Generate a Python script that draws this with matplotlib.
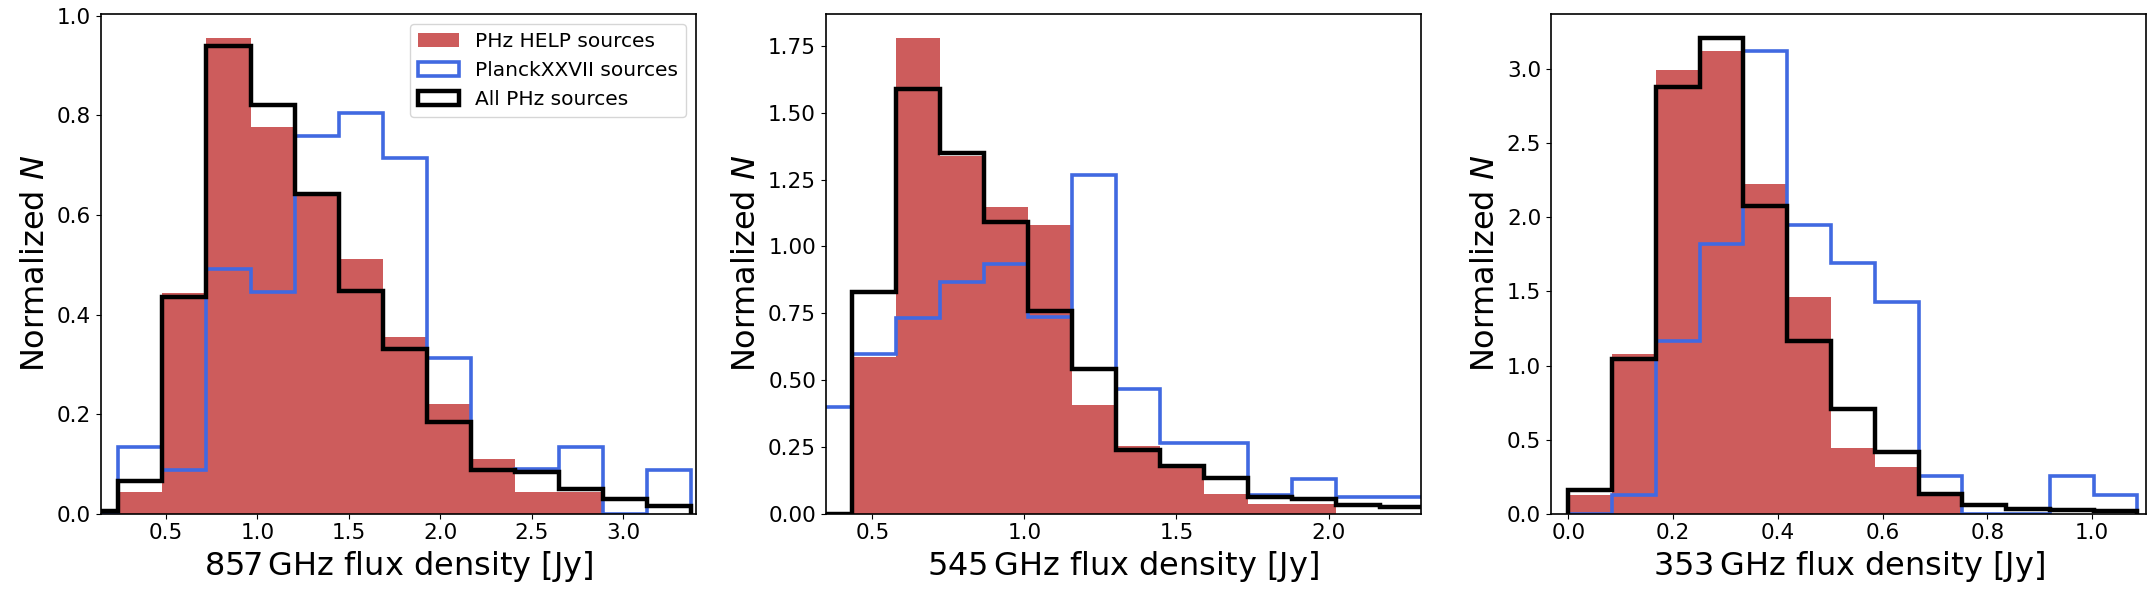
import numpy as np
import matplotlib
matplotlib.use("Agg")
import matplotlib.pyplot as plt  # noqa: E402
from matplotlib.ticker import MultipleLocator  # noqa: E402

# ---- bin edges and normalized counts ----
edges_857 = [0.0, 0.241, 0.481, 0.722, 0.963, 1.204, 1.444, 1.685, 1.926, 2.166, 2.407, 2.648, 2.889, 3.129, 3.370]
help_857 = [0.0, 0.043, 0.443, 0.956, 0.777, 0.640, 0.512, 0.355, 0.220, 0.110, 0.044, 0.044, 0.0, 0.0]
xxvii_857 = [0.0, 0.133, 0.087, 0.491, 0.445, 0.759, 0.804, 0.714, 0.312, 0.088, 0.090, 0.134, 0.0, 0.088]
all_857 = [0.006, 0.066, 0.435, 0.940, 0.821, 0.642, 0.447, 0.331, 0.185, 0.087, 0.083, 0.049, 0.029, 0.015]

edges_545 = [0.289, 0.434, 0.578, 0.723, 0.868, 1.012, 1.157, 1.301, 1.446, 1.591, 1.735, 1.880, 2.024, 2.169, 2.314]
help_545 = [0.0, 0.585, 1.780, 1.337, 1.148, 1.078, 0.407, 0.255, 0.170, 0.075, 0.036, 0.036, 0.0, 0.0]
xxvii_545 = [0.399, 0.598, 0.732, 0.867, 0.934, 0.736, 1.266, 0.466, 0.264, 0.264, 0.070, 0.129, 0.064, 0.064]
all_545 = [0.0, 0.830, 1.589, 1.350, 1.090, 0.760, 0.542, 0.239, 0.179, 0.133, 0.061, 0.056, 0.033, 0.024]

edges_353 = [0.0, 0.0836, 0.1672, 0.2508, 0.3344, 0.418, 0.5016, 0.5852, 0.6688, 0.7524, 0.836, 0.9196, 1.0032, 1.0868]
help_353 = [0.126, 1.079, 2.998, 3.126, 2.228, 1.464, 0.444, 0.315, 0.120, 0.0, 0.0, 0.0, 0.0]
xxvii_353 = [0.0, 0.126, 1.167, 1.820, 3.126, 1.949, 1.692, 1.428, 0.255, 0.0, 0.0, 0.255, 0.124]
all_353 = [0.160, 1.043, 2.881, 3.212, 2.074, 1.167, 0.707, 0.415, 0.133, 0.059, 0.034, 0.025, 0.020]

bands = ["857", "545", "353"]
xlims = [(0.146, 3.396), (0.347, 2.303), (-0.033, 1.103)]
xsteps = [0.5, 0.5, 0.2]
panels = [(edges_857, help_857, xxvii_857, all_857),
          (edges_545, help_545, xxvii_545, all_545),
          (edges_353, help_353, xxvii_353, all_353)]

fig = plt.figure(figsize=(21.52, 6.04), dpi=100)
lefts = [0.0469, 0.3837, 0.7207]
for i, (band, xl, (ed, h, x27, al)) in enumerate(zip(bands, xlims, panels)):
    ax = fig.add_axes([lefts[i], 0.1495, 0.2765, 0.8273])
    ed = np.array(ed)
    mids = 0.5 * (ed[:-1] + ed[1:])
    ax.hist(mids, bins=ed, weights=h, histtype="stepfilled", color="indianred",
            label="PHz HELP sources")
    ax.hist(mids, bins=ed, weights=x27, histtype="step", color="royalblue", lw=2.6,
            label="PlanckXXVII sources")
    ax.hist(mids, bins=ed, weights=al, histtype="step", color="black", lw=3.2,
            label="All PHz sources")
    ax.set_xlim(*xl)
    ax.xaxis.set_major_locator(MultipleLocator(xsteps[i]))
    ax.set_xlabel(band + r"$\,$GHz flux density [Jy]", fontsize=23)
    ax.set_ylabel(r"Normalized $N$", fontsize=23)
    ax.tick_params(labelsize=15.5)
    for s in ax.spines.values():
        s.set_linewidth(1.2)
    if i == 0:
        ax.legend(loc="upper right", fontsize=14.5)

fig.savefig("out.png", dpi=100)
